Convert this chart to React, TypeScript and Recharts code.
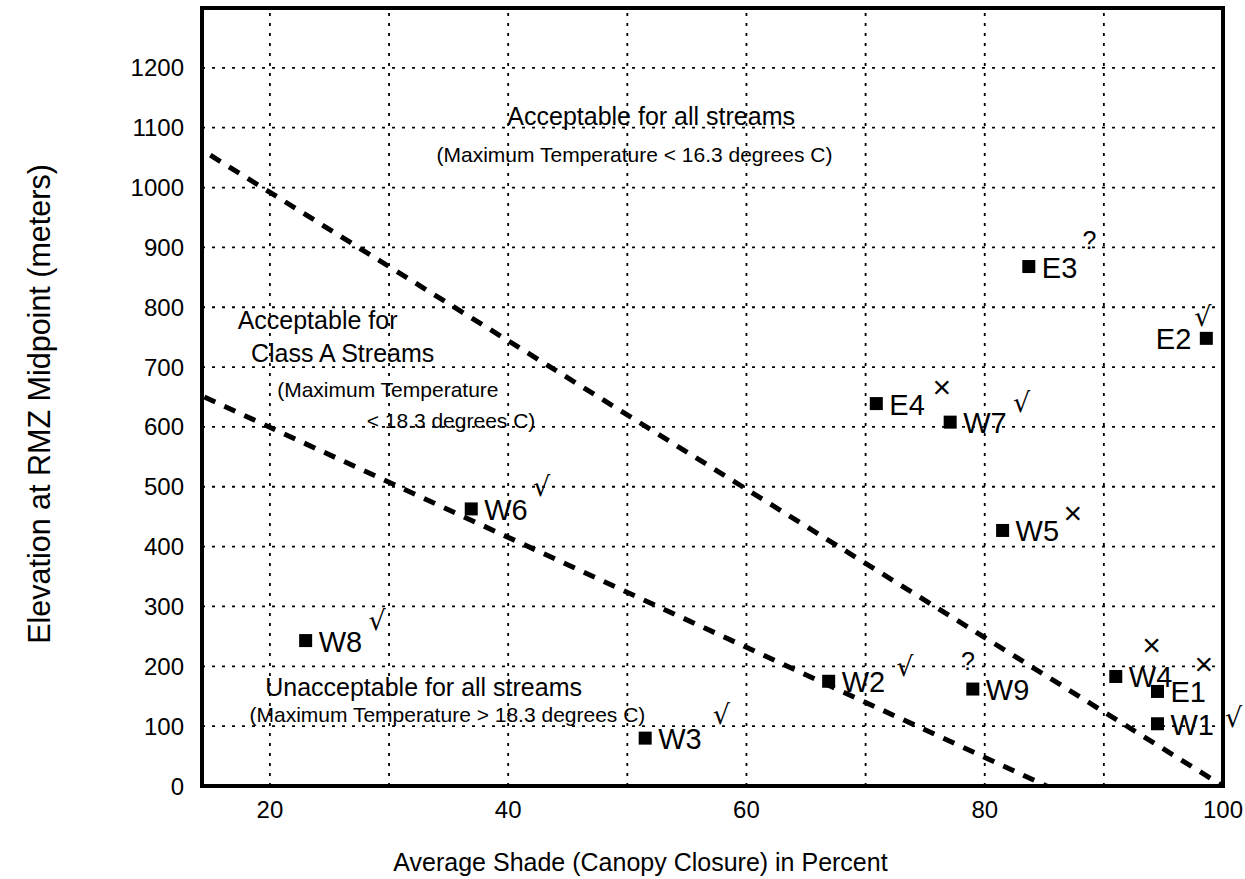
import React from 'react';
import {
  ScatterChart,
  Scatter,
  XAxis,
  YAxis,
  ReferenceLine,
  ReferenceDot,
  ReferenceArea,
} from 'recharts';

// ---- Stations (square markers) ----
const stationNames = ['W1', 'W2', 'W3', 'W4', 'W5', 'W6', 'W7', 'W8', 'W9', 'E1', 'E2', 'E3', 'E4'];
const shadePercent = [94.5, 66.9, 51.5, 91.0, 81.5, 36.9, 77.1, 23.0, 79.0, 94.5, 98.6, 83.7, 70.9];
const elevationMeters = [104, 175, 80, 183, 427, 463, 608, 243, 162, 158, 748, 868, 639];

// ---- Rating symbols next to each station ----
const ratingSymbols = ['√', '√', '√', '×', '×', '√', '√', '√', '?', '×', '√', '?', '×'];
const ratingShade = [100.9, 73.3, 57.9, 94.0, 87.4, 42.8, 83.1, 29.0, 78.6, 98.4, 98.3, 88.8, 76.4];
const ratingElevation = [114, 199, 119, 236, 457, 500, 640, 276, 209, 204, 784, 912, 667];

// ---- Boundary lines ----
const upperBoundaryShade = [15, 100];
const upperBoundaryElevation = [1054, 0];
const lowerBoundaryShade = [14.5, 85.2];
const lowerBoundaryElevation = [650, 0];

// ---- Zone annotations ----
const zoneTexts = [
  'Acceptable for all streams',
  '(Maximum Temperature < 16.3 degrees C)',
  'Acceptable for',
  'Class A Streams',
  '(Maximum Temperature',
  '< 18.3 degrees C)',
  'Unacceptable for all streams',
  '(Maximum Temperature > 18.3 degrees C)',
];
const zoneKinds = ['title', 'note', 'title', 'title', 'note', 'note', 'title', 'note'];
const zoneShade = [52.0, 50.6, 24.0, 26.1, 29.9, 35.2, 32.9, 34.9];
const zoneElevation = [1119, 1056, 779, 723, 662, 610, 165, 120];

// ---- Axes ----
const xTicks = [20, 40, 60, 80, 100];
const yTicks = [0, 100, 200, 300, 400, 500, 600, 700, 800, 900, 1000, 1100, 1200];
const xGridValues = [20, 30, 40, 50, 60, 70, 80, 90];
const yGridValues = [100, 200, 300, 400, 500, 600, 700, 800, 900, 1000, 1100, 1200];
const xDomain = [14.3, 100];
const yDomain = [0, 1300];

const FONT = '"Liberation Sans", Arial, Helvetica, sans-serif';

const stations = stationNames.map((name, i) => ({
  name,
  x: shadePercent[i],
  y: elevationMeters[i],
}));

const StationShape = (props: any) => {
  const { cx, cy, payload } = props;
  if (cx == null || cy == null) return <g />;
  const labelLeft = payload.x > 97 && payload.y > 500;
  return (
    <g>
      <rect x={cx - 6.5} y={cy - 6.5} width={13} height={13} fill="#000" />
      <text
        x={labelLeft ? cx - 15 : cx + 13}
        y={cy + 11}
        textAnchor={labelLeft ? 'end' : 'start'}
        fontSize={29}
        fontFamily={FONT}
        fill="#000"
      >
        {payload.name}
      </text>
    </g>
  );
};

const YAxisLabel = (props: any) => {
  const vb = props.viewBox || { x: 0, y: 8, width: 202, height: 778 };
  const cx = vb.x + 39;
  const cy = vb.y + vb.height / 2 + 7;
  return (
    <text
      x={cx}
      y={cy}
      transform={`rotate(-90 ${cx} ${cy})`}
      textAnchor="middle"
      dominantBaseline="central"
      fontSize={30.5}
      fontFamily={FONT}
      fill="#000"
    >
      Elevation at RMZ Midpoint (meters)
    </text>
  );
};

const XAxisLabel = (props: any) => {
  const vb = props.viewBox || { x: 202, y: 786, width: 1021, height: 93 };
  const cx = vb.x + vb.width / 2 - 72;
  const cy = vb.y + 85;
  return (
    <text x={cx} y={cy} textAnchor="middle" fontSize={25} fontFamily={FONT} fill="#000">
      Average Shade (Canopy Closure) in Percent
    </text>
  );
};

const symbolSize = (s: string) => (s === '×' ? 32 : s === '?' ? 25 : 27);
const symbolFont = (s: string) => (s === '√' ? '"DejaVu Sans", sans-serif' : FONT);

export default function App() {
  return (
    <div style={{ position: 'absolute', left: 0, top: 0, background: '#fff' }}>
      <ScatterChart
        width={1245}
        height={879}
        margin={{ top: 8, right: 22, bottom: 0, left: 0 }}
      >
        <XAxis
          type="number"
          dataKey="x"
          domain={xDomain}
          allowDataOverflow
          ticks={xTicks}
          tickLine={false}
          axisLine={false}
          tickMargin={9}
          height={93}
          tick={{ fill: '#000', fontSize: 24, fontFamily: FONT }}
          label={<XAxisLabel />}
        />
        <YAxis
          type="number"
          dataKey="y"
          domain={yDomain}
          allowDataOverflow
          ticks={yTicks}
          tickLine={false}
          axisLine={false}
          tickMargin={12}
          width={202}
          tick={{ fill: '#000', fontSize: 24, fontFamily: FONT }}
          label={<YAxisLabel />}
        />

        {xGridValues.map((v) => (
          <ReferenceLine
            key={`gx${v}`}
            x={v}
            stroke="#000"
            strokeWidth={1.8}
            strokeDasharray="3 7"
          />
        ))}
        {yGridValues.map((v) => (
          <ReferenceLine
            key={`gy${v}`}
            y={v}
            stroke="#000"
            strokeWidth={1.8}
            strokeDasharray="3 7"
          />
        ))}

        <ReferenceLine
          segment={[
            { x: upperBoundaryShade[0], y: upperBoundaryElevation[0] },
            { x: upperBoundaryShade[1], y: upperBoundaryElevation[1] },
          ]}
          stroke="#000"
          strokeWidth={5}
          strokeDasharray="12 10"
        />
        <ReferenceLine
          segment={[
            { x: lowerBoundaryShade[0], y: lowerBoundaryElevation[0] },
            { x: lowerBoundaryShade[1], y: lowerBoundaryElevation[1] },
          ]}
          stroke="#000"
          strokeWidth={5}
          strokeDasharray="12 10"
        />

        <Scatter
          data={stations}
          isAnimationActive={false}
          shape={<StationShape />}
        />

        {ratingSymbols.map((s, i) => (
          <ReferenceDot
            key={`r${i}`}
            x={ratingShade[i]}
            y={ratingElevation[i]}
            r={0}
            ifOverflow="visible"
            shape={(p: any) => (
              <text
                x={p.cx}
                y={p.cy}
                textAnchor="middle"
                dominantBaseline="central"
                fontSize={symbolSize(s)}
                fontWeight={s === '×' ? 200 : 400}
                fontFamily={symbolFont(s)}
                fill="#000"
              >
                {s}
              </text>
            )}
          />
        ))}

        {zoneTexts.map((t, i) => (
          <ReferenceDot
            key={`z${i}`}
            x={zoneShade[i]}
            y={zoneElevation[i]}
            r={0}
            ifOverflow="visible"
            shape={(p: any) => (
              <text
                x={p.cx}
                y={p.cy}
                textAnchor="middle"
                dominantBaseline="central"
                fontSize={zoneKinds[i] === 'title' ? 25 : 21}
                fontFamily={FONT}
                fill="#000"
              >
                {t}
              </text>
            )}
          />
        ))}

        <ReferenceArea
          x1={xDomain[0]}
          x2={xDomain[1]}
          y1={yDomain[0]}
          y2={yDomain[1]}
          fill="none"
          fillOpacity={0}
          stroke="#000"
          strokeWidth={4}
        />
      </ScatterChart>
    </div>
  );
}
